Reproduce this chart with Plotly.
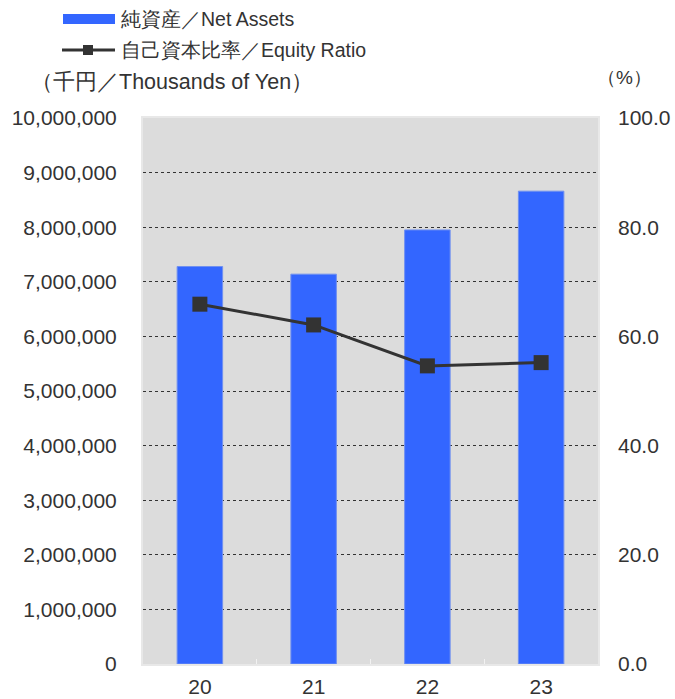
import plotly.graph_objects as go

categories = ["20", "21", "22", "23"]
net_assets = [7280000, 7140000, 7950000, 8660000]
equity_ratio = [65.9, 62.1, 54.6, 55.2]
left_ticks = [0, 1000000, 2000000, 3000000, 4000000, 5000000, 6000000, 7000000, 8000000, 9000000, 10000000]
right_ticks = [0, 20, 40, 60, 80, 100]
bar_name = "純資産／Net Assets"
line_name = "自己資本比率／Equity Ratio"
unit_left = "（千円／Thousands of Yen）"
unit_right = "（%）"

FONT = "Liberation Sans, Arial, sans-serif"
TXT = "#333333"
BAR = "#3366FF"

FW, FH = 675, 699
L, R, T, B = 143, 598, 118, 664  # plot area in page pixels
W, H = R - L, B - T


def px(x):
    return (x - L) / W


def py(y):
    return (B - y) / H


fig = go.Figure()
fig.add_trace(go.Bar(
    x=categories, y=net_assets, name=bar_name,
    marker=dict(color=BAR, line=dict(color="#7090f0", width=1)),
    width=0.4, showlegend=False,
))
fig.add_trace(go.Scatter(
    x=categories, y=equity_ratio, name=line_name,
    yaxis="y2", mode="lines+markers",
    line=dict(color="#333333", width=3),
    marker=dict(symbol="square", size=15, color="#333333"),
    showlegend=False,
))

shapes = [
    dict(type="rect", xref="paper", yref="paper", x0=px(63), x1=px(115), y0=py(24), y1=py(14),
         fillcolor=BAR, line=dict(width=0), layer="above"),
    dict(type="line", xref="paper", yref="paper", x0=px(62), x1=px(115), y0=py(50), y1=py(50),
         line=dict(color="#333333", width=3), layer="above"),
    dict(type="rect", xref="paper", yref="paper", x0=px(83), x1=px(93), y0=py(55), y1=py(45),
         fillcolor="#333333", line=dict(width=0), layer="above"),
]

annotations = [
    dict(text=bar_name, xref="paper", yref="paper", x=px(119), y=py(19),
         xanchor="left", yanchor="middle", showarrow=False, font=dict(size=19.5, color=TXT)),
    dict(text=line_name, xref="paper", yref="paper", x=px(119), y=py(50),
         xanchor="left", yanchor="middle", showarrow=False, font=dict(size=19.5, color=TXT)),
    dict(text=unit_left, xref="paper", yref="paper", x=px(172), y=py(82),
         xanchor="center", yanchor="middle", showarrow=False, font=dict(size=21.5, color=TXT)),
    dict(text=unit_right, xref="paper", yref="paper", x=px(624), y=py(77),
         xanchor="center", yanchor="middle", showarrow=False, font=dict(size=19, color=TXT)),
]

fig.update_layout(
    width=FW, height=FH,
    margin=dict(l=L, r=FW - R, t=T, b=FH - B, autoexpand=False),
    paper_bgcolor="white", plot_bgcolor="#dcdcdc",
    font=dict(family=FONT, size=21, color=TXT),
    showlegend=False,
    xaxis=dict(type="category", showgrid=False, ticks="inside", tickson="boundaries",
               ticklen=5, tickcolor="#f2f2f2", showline=True, linecolor="#e8e8e8",
               linewidth=2, mirror=True, ticklabelstandoff=3,
               tickfont=dict(size=21, color=TXT)),
    yaxis=dict(range=[0, 10000000], tickvals=left_ticks, tickformat=",",
               showgrid=True, gridcolor="#333333", griddash="dot", gridwidth=1,
               zeroline=False, showline=True, linecolor="#e8e8e8", linewidth=2, mirror=True,
               ticks="", ticklabelstandoff=20,
               tickfont=dict(size=21, color=TXT)),
    yaxis2=dict(range=[0, 100], tickvals=right_ticks, tickformat=".1f",
                overlaying="y", side="right", showgrid=False, zeroline=False,
                ticks="", ticklabelstandoff=19,
                tickfont=dict(size=21, color=TXT)),
    bargap=0.6,
    shapes=shapes,
    annotations=annotations,
)

fig.write_html(
    "out.html",
    config={"displayModeBar": False},
    post_script="document.body.style.margin='0';document.body.style.overflow='hidden';",
)
